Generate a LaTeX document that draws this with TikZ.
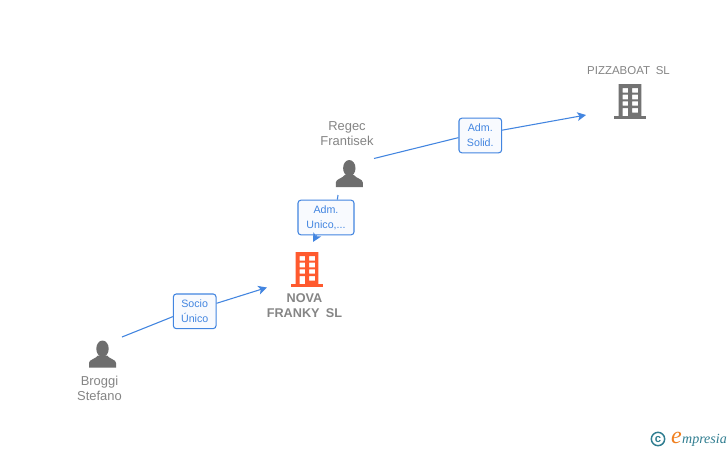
\documentclass[tikz,border=0pt]{standalone}
\usepackage{fontspec}
\setmainfont{Liberation Sans}
\newfontfamily\logofont{Liberation Serif}
\usetikzlibrary{arrows.meta}
\definecolor{linkblue}{HTML}{4285E0}
\definecolor{boxfill}{HTML}{F8FAFE}
\definecolor{iconorange}{HTML}{FF5A2E}
\definecolor{icongray}{HTML}{737373}
\definecolor{persongray}{HTML}{6E6E6E}
\definecolor{textgray}{HTML}{858585}
\definecolor{logoteal}{HTML}{2F7D90}
\definecolor{logoorange}{HTML}{F08020}
\tikzset{
  x=0.75pt,y=-0.75pt,
  relbox/.style={draw=linkblue,fill=boxfill,line width=0.8pt,rounded corners=2.2pt,
    text=linkblue,font=\fontsize{8}{11.25}\selectfont,align=center,inner sep=0pt},
  link/.style={draw=linkblue,line width=0.8pt},
  linkarrow/.style={link,-{Stealth[length=6.5pt,width=6.5pt,inset=1.6pt]}},
  namelabel/.style={text=textgray,font=\fontsize{9.7}{11.25}\selectfont,align=center,inner sep=0pt},
  capslabel/.style={namelabel,font=\fontsize{8.6}{11.25}\selectfont},
  boldlabel/.style={namelabel,font=\fontsize{9.5}{11.25}\selectfont\bfseries},
  pics/building/.style={code={
    \fill[#1,even odd rule]
      (-11.3,0) rectangle (11.3,33)
      (-7.5,4) rectangle (-2,8.7) (2,4) rectangle (8,8.7)
      (-7.5,10.7) rectangle (-2,15.3) (2,10.7) rectangle (8,15.3)
      (-7.5,17.3) rectangle (-2,21.7) (2,17.3) rectangle (8,21.7)
      (-7.5,24) rectangle (-2,33) (2,24) rectangle (8,28.7);
    \fill[#1] (-16,32) rectangle (16,34.5);
  }},
  pics/person/.style={code={
    \fill[persongray] (0,8.2) ellipse [x radius=6.2, y radius=8.2];
    \fill[persongray] (-13.5,27) -- (-13.5,22.5)
      .. controls (-13.5,19) and (-7,18.5) .. (-4.5,15)
      -- (4.5,15)
      .. controls (7,18.5) and (13.5,19) .. (13.5,22.5)
      -- (13.5,27) -- cycle;
  }}
}
\begin{document}
\begin{tikzpicture}
\useasboundingbox[fill=white] (0,0) rectangle (728,450);

% icons
\pic at (307,252) {building=iconorange};
\pic at (630,84) {building=icongray};
\pic at (349.3,160) {person};
\pic at (102.5,340.5) {person};

% labels
\node[capslabel] (pizzalabel) at (628.5,70.5) {PIZZABOAT\hspace{0.5em}SL};
\node[namelabel] (regeclabel) at (347,133.5) {Regec\\Frantisek};
\node[boldlabel] (novalabel) at (304.5,305.5) {NOVA\\FRANKY\hspace{0.5em}SL};
\node[namelabel] (broggilabel) at (99.5,388) {Broggi\\Stefano};

% connector ends
\coordinate (regecout) at (374,158.5);
\coordinate (pizzain) at (586,115);
\coordinate (regecdown) at (338,195);
\coordinate (novain) at (313,242);
\coordinate (broggiout) at (122,337);
\coordinate (novain2) at (267,287.5);

% relation boxes
\node[relbox,minimum width=32pt,minimum height=26pt] (solid) at (480.3,135.5) {Adm.\\Solid.};
\node[relbox,minimum width=42pt,minimum height=26pt] (unico) at (326,217.5) {Adm.\\Unico,...};
\node[relbox,minimum width=32pt,minimum height=26pt] (socio) at (194.7,311.3) {Socio\\Único};

% connectors
\draw[link] (regecout) -- ([yshift=-1.6pt]solid.west);
\draw[linkarrow] ([yshift=4pt]solid.east) -- (pizzain);
\draw[link] (regecdown) -- ([xshift=8.5pt]unico.north);
\draw[linkarrow] ([xshift=-7pt]unico.south) -- (novain);
\draw[link] (broggiout) -- ([yshift=-4pt]socio.west);
\draw[linkarrow] ([yshift=6pt]socio.east) -- (novain2);

% logo
\node[draw=logoteal,line width=1.1pt,circle,minimum size=10pt,inner sep=0pt,text=logoteal,
  font=\fontsize{8.5}{8.5}\selectfont\bfseries] (copyr) at (658,439) {c};
\node[text=logoorange,font=\logofont\itshape\fontsize{18}{18}\selectfont,inner sep=0pt] (logoe) at (676.5,438) {e};
\node[text=logoteal,font=\logofont\itshape\fontsize{10.5}{10.5}\selectfont,inner sep=0pt] (logotext) at (704.5,440) {mpresia};
\end{tikzpicture}
\end{document}
